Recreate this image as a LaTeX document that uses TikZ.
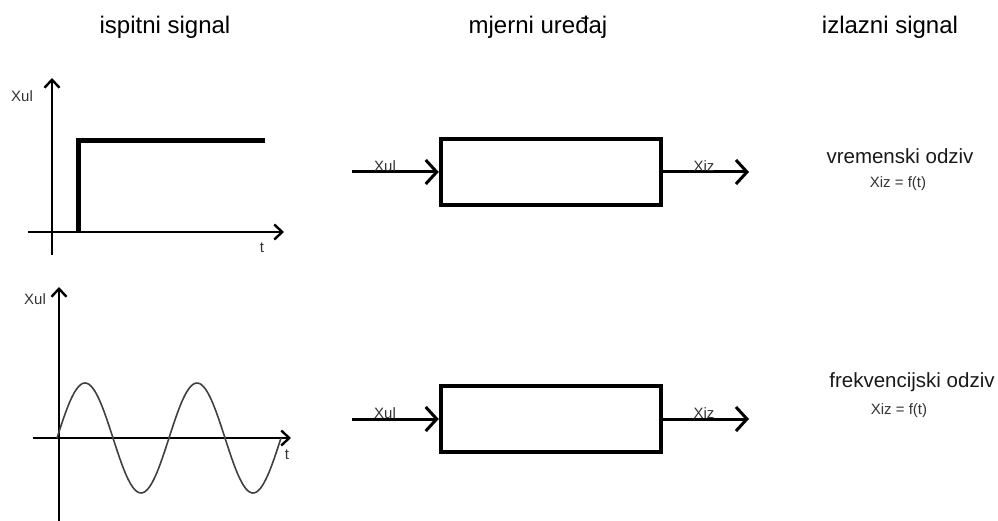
\documentclass[tikz,border=0pt]{standalone}
\usepackage{fontspec}
\setmainfont{Liberation Sans}
\usetikzlibrary{arrows.meta}
\begin{document}
\begin{tikzpicture}[x=1pt,y=-1pt,
  title/.style={font=\fontsize{24}{26}\selectfont, text=black},
  resp/.style={font=\fontsize{20.5}{22}\selectfont, text=black!90},
  small/.style={font=\fontsize{15}{16}\selectfont, text=black!80, inner sep=0pt},
  axis/.style={line width=2.4pt, -{Straight Barb[length=8pt,width=15pt,line width=2.4pt]}},
  flow/.style={line width=3pt, -{Straight Barb[length=11pt,width=24pt,line width=3pt]}},
  block/.style={draw, line width=4.5pt, minimum width=220pt, minimum height=66pt, inner sep=0pt},
  stepline/.style={line width=5pt, line join=miter},
  wave/.style={line width=1.6pt, black!75}
]
\useasboundingbox (0,0) rectangle (998,521);

% titles
\node[title] (t1) at (165,27) {ispitni signal};
\node[title] (t2) at (538,27) {mjerni uređaj};
\node[title] (t3) at (890,27) {izlazni signal};

% top graph
\coordinate (y1s) at (52,255);
\coordinate (y1e) at (52,78);
\coordinate (x1s) at (28,232);
\coordinate (x1e) at (284,232);
\draw[axis] (y1s) -- (y1e);
\draw[axis] (x1s) -- (x1e);
\coordinate (s0) at (78,232);
\coordinate (s1) at (78,141);
\coordinate (s2) at (265,141);
\draw[stepline] (s0) -- (s1) -- (s2);
\node[small] (xul1) at (22,96) {Xul};
\node[small] (tt1) at (262,248) {t};

% bottom graph
\coordinate (y2s) at (59,521);
\coordinate (y2e) at (59,287);
\coordinate (x2s) at (33,438);
\coordinate (x2e) at (291,438);
\draw[axis] (y2s) -- (y2e);
\draw[axis] (x2s) -- (x2e);
\draw[wave] plot[domain=0:224, samples=120, smooth] ({57+\x},{438-55*sin(\x/112*360)});
\node[small] (xul2) at (35,299) {Xul};
\node[small] (tt2) at (287,455) {t};

% top block
\node[block] (b1) at (551,172) {};
\coordinate (in1) at (352,172);
\coordinate (out1) at (749,172);
\draw[flow] (in1) -- (b1.west);
\draw[flow] (b1.east) -- (out1);
\node[small, anchor=south] (lin1) at (385,172) {Xul};
\node[small, anchor=south] (lout1) at (704,172) {Xiz};

% bottom block
\node[block] (b2) at (551,419) {};
\coordinate (in2) at (352,419);
\coordinate (out2) at (749,419);
\draw[flow] (in2) -- (b2.west);
\draw[flow] (b2.east) -- (out2);
\node[small, anchor=south] (lin2) at (385,419) {Xul};
\node[small, anchor=south] (lout2) at (704,419) {Xiz};

% responses
\node[resp] (r1) at (900,156) {vremenski odziv};
\node[small] (f1) at (898,184) {Xiz = f(t)};
\node[resp] (r2) at (912,382) {frekvencijski odziv};
\node[small] (f2) at (899,411) {Xiz = f(t)};
\end{tikzpicture}
\end{document}
